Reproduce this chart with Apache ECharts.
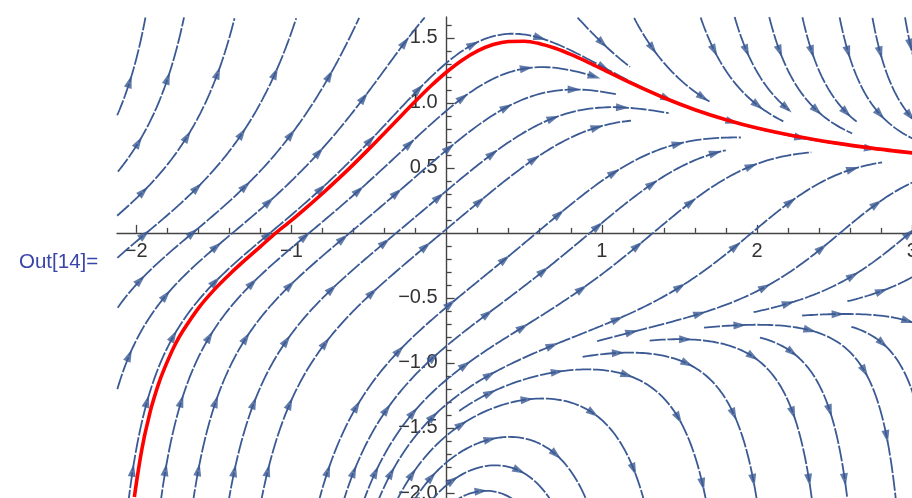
<!DOCTYPE html>
<html><head><meta charset="utf-8">
<script src="https://cdn.jsdelivr.net/npm/echarts@6/dist/echarts.min.js"></script>
<style>html,body{margin:0;padding:0;background:#fff;overflow:hidden}#c{width:912px;height:498px}</style>
</head><body><div id="c"></div>
<script>
// ---------------- data ----------------
const xRange = [-2.124, 3.0];
const yRange = [-2.1, 1.66];
const xTicksMajor = [-2, -1, 1, 2, 3];
const xTicksMinor = [-1.8,-1.6,-1.4,-1.2,-0.8,-0.6,-0.4,-0.2,0.2,0.4,0.6,0.8,1.2,1.4,1.6,1.8,2.2,2.4,2.6,2.8];
const yTicksMajor = [-2, -1.5, -1, -0.5, 0.5, 1, 1.5];
const yTicksMinor = [-1.9,-1.8,-1.7,-1.6,-1.4,-1.3,-1.2,-1.1,-0.9,-0.8,-0.7,-0.6,-0.4,-0.3,-0.2,-0.1,0.1,0.2,0.3,0.4,0.6,0.7,0.8,0.9,1.1,1.2,1.3,1.4,1.6];
// red solution curve
const solutionX = [-2.012,-2.0,-1.975,-1.95,-1.925,-1.9,-1.85,-1.8,-1.75,-1.7,-1.6,-1.5,-1.4,-1.3,-1.2,-1.1,-1.0,-0.9,-0.8,-0.7,-0.6,-0.5,-0.4,-0.3,-0.2,-0.1,0,0.1,0.2,0.3,0.4,0.5,0.6,0.7,0.8,0.9,1.0,1.2,1.4,1.6,1.8,2.0,2.25,2.5,2.75,3.0];
const solutionY = [-2.03,-1.93,-1.74,-1.58,-1.45,-1.33,-1.14,-0.99,-0.86,-0.755,-0.58,-0.44,-0.32,-0.21,-0.105,0,0.096,0.198,0.303,0.413,0.527,0.646,0.768,0.892,1.014,1.131,1.237,1.328,1.399,1.448,1.472,1.474,1.455,1.42,1.373,1.319,1.261,1.145,1.039,0.947,0.87,0.806,0.743,0.692,0.65,0.615];
// seed points lying on streamlines seen in the picture
const seedX = [0.46, 0.6, 2.37, -1.0, 0.0, 1.5, -1.5, 1.0];
const seedY = [1.53, 1.0, -0.65, -0.25, -1.2, 0.3, 1.2, -1.8];
// slope field of the stream plot: dy/dx = 1 - x*y^2
function field(x, y) { return 1 - x * y * y; }

// ---------------- layout ----------------
const G = { left: 117, top: 17, width: 795.2, height: 489 };
const sx = G.width / (xRange[1] - xRange[0]);
const sy = G.height / (yRange[1] - yRange[0]);
const px = x => G.left + (x - xRange[0]) * sx;
const py = y => G.top + (yRange[1] - y) * sy;
const xAxisOffset = -(G.top + G.height - py(0));
const yAxisOffset = -(px(0) - G.left);
const BLUE = '#3b5a94';

// ---------------- evenly spaced streamlines ----------------
const dSep = 32, dTest = 12.5, h = 1.5;
const cells = new Map();
function cellKey(i, j) { return i + ',' + j; }
function addPoint(X, Y) {
  const k = cellKey(Math.floor(X / dSep), Math.floor(Y / dSep));
  if (!cells.has(k)) cells.set(k, []);
  cells.get(k).push([X, Y]);
}
function isFree(X, Y, d) {
  const ci = Math.floor(X / dSep), cj = Math.floor(Y / dSep);
  const d2 = d * d;
  for (let i = ci - 1; i <= ci + 1; i++) for (let j = cj - 1; j <= cj + 1; j++) {
    const arr = cells.get(cellKey(i, j));
    if (!arr) continue;
    for (const p of arr) { const dx = p[0] - X, dy = p[1] - Y; if (dx * dx + dy * dy < d2) return false; }
  }
  return true;
}
function dirAt(x, y) {
  const f = field(x, y);
  const n = Math.hypot(sx, sy * f);
  return [1 / n, f / n];
}
function inDomain(x, y) { return x >= xRange[0] && x <= xRange[1] + 0.02 && y >= yRange[0] && y <= yRange[1]; }
function trace(x0, y0, sgn) {
  const pts = [];
  let x = x0, y = y0;
  for (let n = 0; n < 4000; n++) {
    const d1 = dirAt(x, y);
    const xm = x + sgn * d1[0] * h * 0.5, ym = y + sgn * d1[1] * h * 0.5;
    const d2 = dirAt(xm, ym);
    x += sgn * d2[0] * h; y += sgn * d2[1] * h;
    if (!inDomain(x, y)) break;
    if (!isFree(px(x), py(y), dTest)) break;
    pts.push([x, y]);
  }
  return pts;
}
const lines = [];
function makeLine(x0, y0) {
  if (!inDomain(x0, y0) || !isFree(px(x0), py(y0), dSep * 0.98)) return null;
  const back = trace(x0, y0, -1).reverse();
  const fwd = trace(x0, y0, 1);
  const pts = back.concat([[x0, y0]], fwd);
  if (pts.length < 12) return null;
  pts.forEach(p => addPoint(px(p[0]), py(p[1])));
  lines.push(pts);
  return pts;
}
const queue = [];
for (let i = 0; i < seedX.length; i++) {
  const l = makeLine(seedX[i], seedY[i]);
  if (l) queue.push(l);
  while (queue.length) {
    const cur = queue.shift();
    for (let k = 0; k < cur.length; k += 3) {
      const [x, y] = cur[k];
      const d = dirAt(x, y);
      const tx = d[0] * sx, ty = d[1] * sy;
      for (const s of [1, -1]) {
        const nx = x + s * (-ty) * dSep / sx;
        const ny = y + s * (tx) * dSep / sy;
        const nl = makeLine(nx, ny);
        if (nl) queue.push(nl);
      }
    }
  }
}

// ---------------- series ----------------
const series = [];
const arrows = [];
lines.forEach(pts => {
  series.push({
    type: 'line', xAxisIndex: 0, yAxisIndex: 0, data: pts.filter((p, i) => i % 2 === 0 || i === pts.length - 1),
    showSymbol: false, silent: true, animation: false, z: 2,
    lineStyle: { color: BLUE, width: 1.8, type: [16, 1.8] }
  });
  let s = 0, next = 36;
  const total = (pts.length - 1) * h;
  if (total < 60) next = total * 0.6;
  for (let i = 1; i < pts.length; i++) {
    s += h;
    if (s >= next) {
      const [x, y] = pts[i];
      const f = field(x, y);
      const ang = Math.atan2(sy * f, sx) * 180 / Math.PI - 90;
      arrows.push({ value: [x, y], symbolRotate: ang });
      next += 70;
    }
  }
});
series.push({
  type: 'scatter', xAxisIndex: 0, yAxisIndex: 0, data: arrows, silent: true, animation: false, z: 3,
  symbol: 'path://M5,0L10,14L0,14Z', symbolSize: [8, 13], itemStyle: { color: BLUE }
});
series.push({
  type: 'line', xAxisIndex: 0, yAxisIndex: 0, data: solutionX.map((x, i) => [x, solutionY[i]]),
  showSymbol: false, smooth: 0.3, silent: true, animation: false, z: 5,
  lineStyle: { color: '#ff0000', width: 3.6 }
});

const minus = v => (v < 0 ? '\u2212' : '');
const chart = echarts.init(document.getElementById('c'), null, { renderer: 'canvas' });
chart.setOption({
  backgroundColor: '#ffffff',
  animation: false,
  grid: Object.assign({ containLabel: false, outerBoundsMode: 'none' }, G),
  graphic: [{
    type: 'text', left: 19, top: 252,
    style: { text: 'Out[14]=', fill: '#3a45a8', font: '20.5px "Liberation Sans", Arial, sans-serif' }
  }],
  xAxis: [{
    type: 'value', min: xRange[0], max: xRange[1], position: 'bottom', offset: xAxisOffset,
    axisLine: { onZero: false, lineStyle: { color: '#444', width: 1.4 } },
    axisTick: { inside: true, length: 8, customValues: xTicksMajor, lineStyle: { color: '#444', width: 1.3 } },
    axisLabel: { customValues: xTicksMajor, margin: 9, color: '#333', fontSize: 20, fontFamily: 'Liberation Sans',
      hideOverlap: false, formatter: v => minus(v) + Math.abs(v) },
    splitLine: { show: false }
  }, {
    type: 'value', min: xRange[0], max: xRange[1], position: 'bottom', offset: xAxisOffset,
    axisLine: { show: false, onZero: false },
    axisTick: { inside: true, length: 5, customValues: xTicksMinor, lineStyle: { color: '#444', width: 1.3 } },
    axisLabel: { show: false }, splitLine: { show: false }
  }],
  yAxis: [{
    type: 'value', min: yRange[0], max: yRange[1], position: 'left', offset: yAxisOffset,
    axisLine: { onZero: false, lineStyle: { color: '#444', width: 1.4 } },
    axisTick: { inside: true, length: 8, customValues: yTicksMajor, lineStyle: { color: '#444', width: 1.3 } },
    axisLabel: { customValues: yTicksMajor, margin: 9, color: '#333', fontSize: 20, fontFamily: 'Liberation Sans',
      formatter: v => minus(v) + Math.abs(v).toFixed(1) },
    splitLine: { show: false }
  }, {
    type: 'value', min: yRange[0], max: yRange[1], position: 'left', offset: yAxisOffset,
    axisLine: { show: false, onZero: false },
    axisTick: { inside: true, length: 5, customValues: yTicksMinor, lineStyle: { color: '#444', width: 1.3 } },
    axisLabel: { show: false }, splitLine: { show: false }
  }],
  series: series
});
</script></body></html>
